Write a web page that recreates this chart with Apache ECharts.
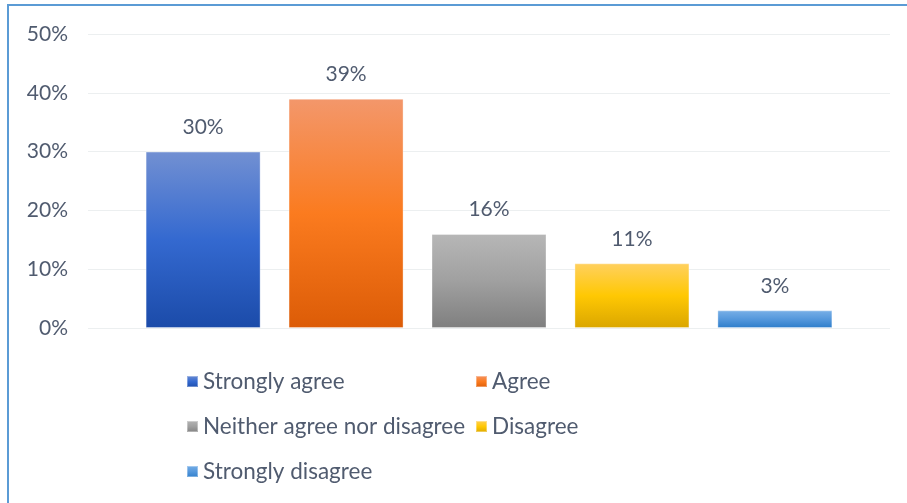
<!DOCTYPE html>
<html>
<head>
<meta charset="utf-8">
<script src="https://cdn.jsdelivr.net/npm/echarts@6/dist/echarts.min.js"></script>
<style>
  html, body { margin: 0; padding: 0; background: #ffffff; }
  #chart { width: 907px; height: 503px; }
</style>
</head>
<body>
<div id="chart"></div>
<script>
// Survey responses (share of respondents, %)
const responses = ['Strongly agree', 'Agree', 'Neither agree nor disagree', 'Disagree', 'Strongly disagree'];
const shares = [30, 39, 16, 11, 3];
const yTicks = [0, 10, 20, 30, 40, 50];

// Vertical gradient stops per response: top, middle, bottom
const palette = [
  ['#7290d2', '#3469d0', '#1b4ba9'],
  ['#f3976b', '#fb7b1f', '#dc5c07'],
  ['#b7b7b7', '#a0a0a0', '#7f7f7f'],
  ['#ffd05f', '#ffc803', '#daa600'],
  ['#79b0e7', '#5598dc', '#2d7dca']
];

const FONT = 'Lato';
const TEXT = '#505b6f';

function grad(c) {
  return new echarts.graphic.LinearGradient(0, 0, 0, 1, [
    { offset: 0, color: c[0] },
    { offset: 0.5, color: c[1] },
    { offset: 1, color: c[2] }
  ]);
}

const chart = echarts.init(document.getElementById('chart'), null, { renderer: 'canvas' });

const series = responses.map((name, i) => ({
  name: name,
  type: 'bar',
  data: [shares[i]],
  barWidth: 115,
  barGap: '24.3%',
  itemStyle: { color: grad(palette[i]), borderColor: 'rgba(255,255,255,0.35)', borderWidth: 1 },
  label: {
    show: true,
    position: 'top',
    distance: 14,
    formatter: p => p.value + '%',
    color: TEXT,
    fontFamily: FONT,
    fontSize: 21
  },
  emphasis: { disabled: true }
}));

const legendText = { color: TEXT, fontFamily: FONT, fontSize: 22.5 };

const legendBase = {
  orient: 'vertical',
  top: 365,
  itemGap: 22,
  itemWidth: 11,
  itemHeight: 11,
  icon: 'rect',
  textStyle: legendText,
  selectedMode: false
};

chart.setOption({
  animation: false,
  backgroundColor: '#ffffff',
  graphic: [{
    type: 'rect',
    shape: { x: 8, y: 5, width: 1000, height: 1000 },
    style: { fill: 'none', stroke: '#5b9bd5', lineWidth: 2 },
    silent: true
  }],
  grid: { left: 88, right: 17, top: 34, bottom: 175 },
  xAxis: {
    type: 'category',
    data: [''],
    axisLine: { show: false },
    axisTick: { show: false },
    axisLabel: { show: false }
  },
  yAxis: {
    type: 'value',
    min: yTicks[0],
    max: yTicks[yTicks.length - 1],
    interval: yTicks[1] - yTicks[0],
    axisLine: { show: false },
    axisTick: { show: false },
    splitLine: { lineStyle: { color: '#eceff0', width: 1 } },
    axisLabel: {
      formatter: v => v + '%',
      color: TEXT,
      fontFamily: FONT,
      fontSize: 21,
      margin: 20
    }
  },
  legend: [
    Object.assign({}, legendBase, {
      left: 181,
      data: [responses[0], responses[2], responses[4]]
    }),
    Object.assign({}, legendBase, {
      left: 470,
      data: [responses[1], responses[3]]
    })
  ],
  series: series
});
</script>
</body>
</html>
